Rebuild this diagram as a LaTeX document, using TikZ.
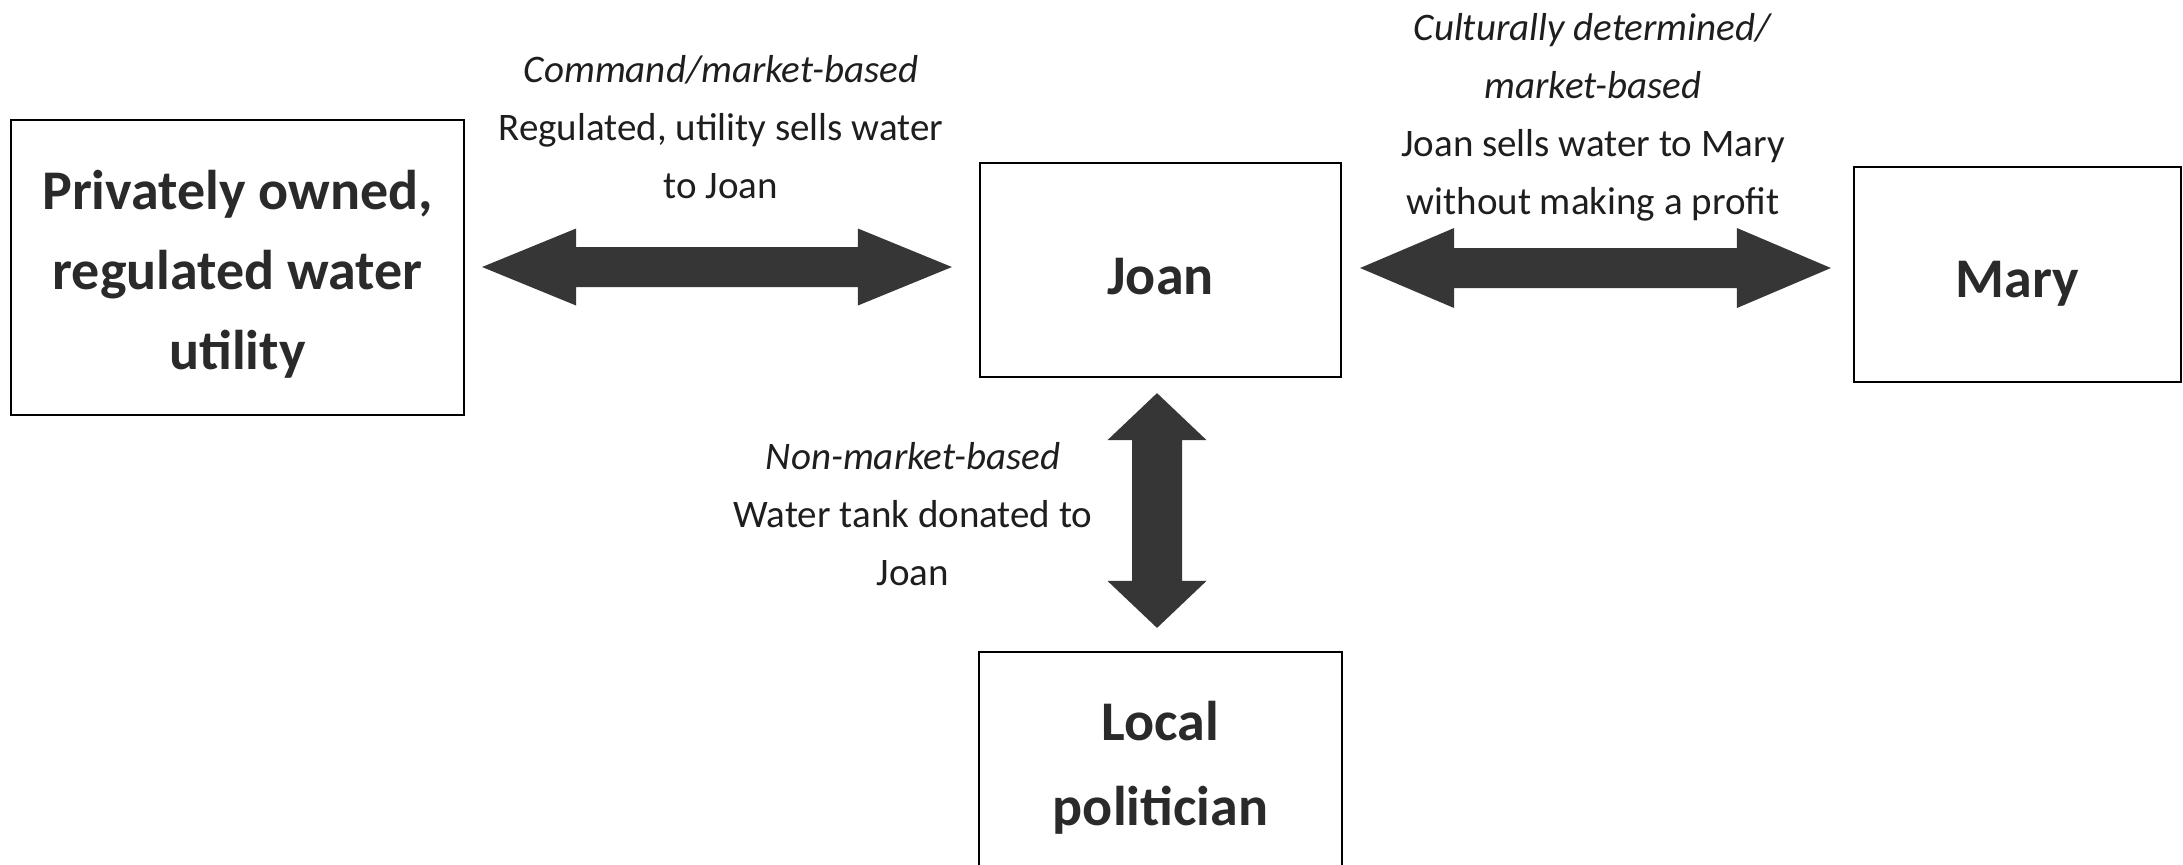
\documentclass[tikz,border=0pt]{standalone}
\usepackage{fontspec}
\setmainfont{Carlito}
\usetikzlibrary{calc}
\definecolor{arrowgray}{HTML}{363636}
\definecolor{textdark}{HTML}{1E1E1E}
\definecolor{boxtext}{HTML}{2A2A2A}
% horizontal double block arrow: #1 left tip, #2 right tip, #3 head length, #4 head half width, #5 shaft half width
\newcommand\hbarrow[5]{%
  \fill[arrowgray] (#1) -- ($(#1)+(#3,-#4)$) -- ($(#1)+(#3,-#5)$) -- ($(#2)+(-#3,-#5)$) -- ($(#2)+(-#3,-#4)$) -- (#2)
    -- ($(#2)+(-#3,#4)$) -- ($(#2)+(-#3,#5)$) -- ($(#1)+(#3,#5)$) -- ($(#1)+(#3,#4)$) -- cycle;}
% vertical double block arrow: #1 top tip, #2 bottom tip
\newcommand\vbarrow[5]{%
  \fill[arrowgray] (#1) -- ($(#1)+(#4,#3)$) -- ($(#1)+(#5,#3)$) -- ($(#2)+(#5,-#3)$) -- ($(#2)+(#4,-#3)$) -- (#2)
    -- ($(#2)+(-#4,-#3)$) -- ($(#2)+(-#5,-#3)$) -- ($(#1)+(-#5,#3)$) -- ($(#1)+(-#4,#3)$) -- cycle;}
\begin{document}
\begin{tikzpicture}[x=0.5pt,y=-0.5pt,
  box/.style={draw=black, line width=1.1pt, fill=white, inner sep=0pt},
  boxtxt/.style={align=center, text=boxtext, font=\fontsize{28}{40}\selectfont\bfseries,
    inner sep=0pt, yshift=-3.5pt},
  lbl/.style={align=center, text=textdark, font=\fontsize{19.5}{29}\selectfont, inner sep=0pt}]
\useasboundingbox (0,0) rectangle (2183,864);
\fill[white] (0,0) rectangle (2183,864);

\node[box, minimum width=226.5pt, minimum height=147.5pt,
  label={[boxtxt]center:{Privately owned,\\regulated water\\utility}}] (util) at (237.5,267.5) {};
\node[box, minimum width=180.5pt, minimum height=107pt,
  label={[boxtxt]center:Joan}] (joan) at (1160.5,270) {};
\node[box, minimum width=163.5pt, minimum height=107.5pt,
  label={[boxtxt, yshift=-1pt]center:Mary}] (mary) at (2017.5,274.5) {};
\node[box, minimum width=181.5pt, minimum height=109pt,
  label={[boxtxt, font=\fontsize{28}{42.5}\selectfont\bfseries]center:{Local\\politician}}] (pol) at (1160.5,761) {};

\coordinate (a1s) at ($(util.east)+(17,-0.5)$);
\coordinate (a1e) at ($(joan.west)+(-27,-3)$);
\coordinate (a2s) at ($(joan.east)+(18,-2)$);
\coordinate (a2e) at ($(mary.west)+(-22,-6.5)$);
\coordinate (a3s) at ($(joan.south)+(-3.5,15)$);
\coordinate (a3e) at ($(pol.north)+(-3.5,-23)$);

\hbarrow{a1s}{a1e}{94}{38.5}{20}
\hbarrow{a2s}{a2e}{94}{40}{20}
\vbarrow{a3s}{a3e}{47}{49.5}{25}

\node[lbl] (l1) at (721,127)
  {\textit{Command/market-based}\\Regulated, utility sells water\\to Joan};
\node[lbl] (l2) at (1593,117)
  {\textit{Culturally determined/}\\\textit{market-based}\\Joan sells water to Mary\\without making a profit};
\node[lbl] (l3) at (913,514)
  {\textit{Non-market-based}\\Water tank donated to\\Joan};
\end{tikzpicture}
\end{document}
